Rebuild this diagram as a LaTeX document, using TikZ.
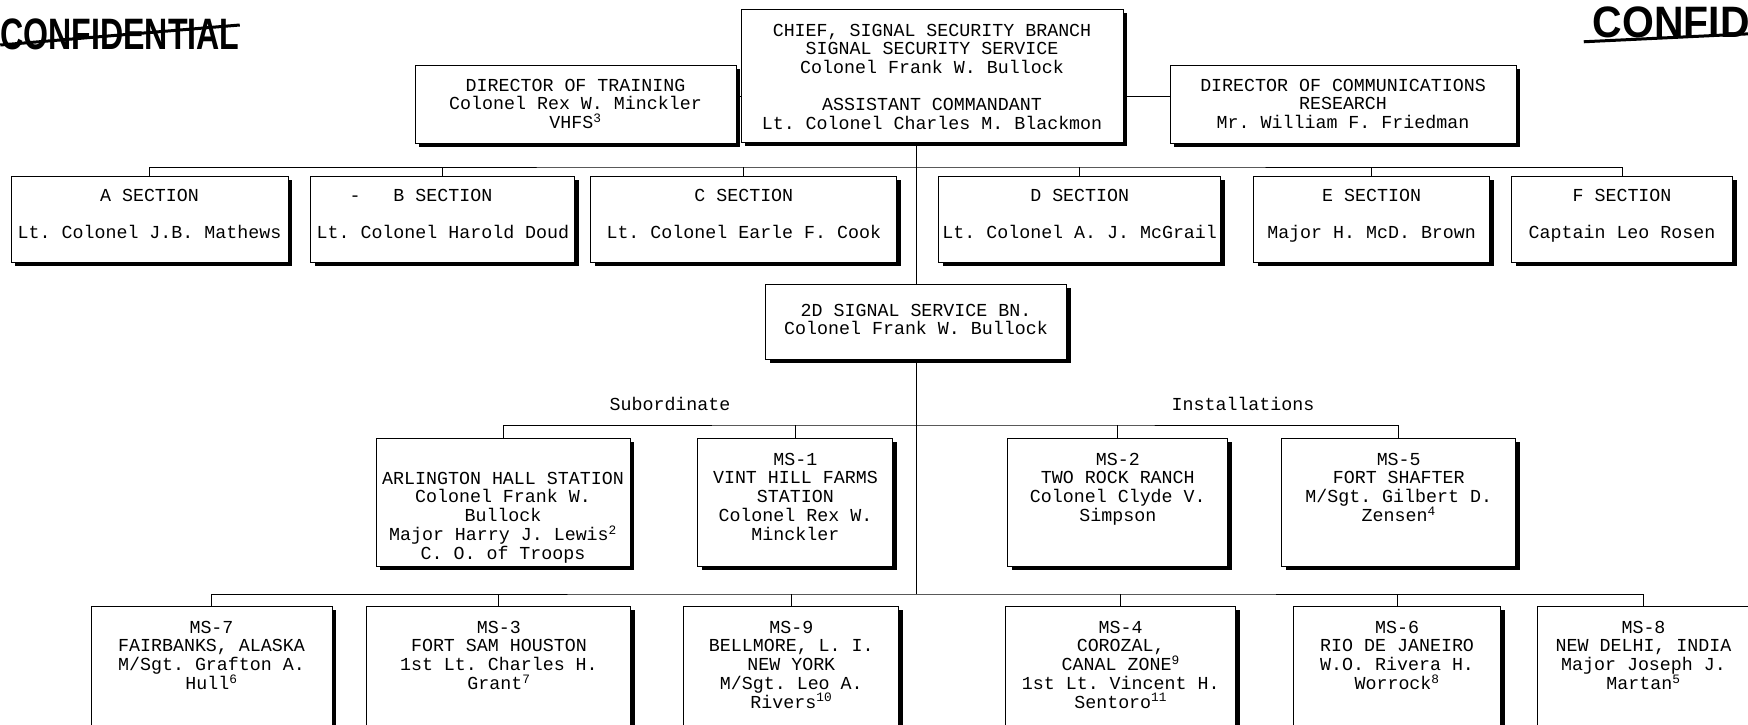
\documentclass[tikz,border=0pt]{standalone}
\usepackage{fontspec}
\setmonofont{Liberation Mono}
\newfontfamily\stampfont[FakeStretch=0.73]{Liberation Sans}
\newfontfamily\stampwide[FakeStretch=0.93]{Liberation Sans}
\usetikzlibrary{positioning,shadows}
% width, height, top padding, lines
\newcommand{\cellbox}[4]{\parbox[c][#2pt][t]{#1pt}{\centering\vspace*{#3pt}#4\par}}
\tikzset{
  orgbox/.style={
    rectangle, draw=black, line width=0.9pt, fill=white, inner sep=0pt,
    font=\ttfamily\fontsize{18.3}{18.7}\selectfont,
    drop shadow={shadow xshift=4pt, shadow yshift=-4pt, fill=black, opacity=1}
  },
  orgline/.style={line width=0.9pt},
  orglabel/.style={font=\ttfamily\fontsize{18.3}{18.7}\selectfont, inner sep=0pt},
  stamp/.style={font=\stampfont\bfseries\fontsize{44}{44}\selectfont, inner sep=0pt}
}

\begin{document}
\begin{tikzpicture}[x=1pt, y=-1pt]
\fill[white, use as bounding box] (0,0) rectangle (1748,725);

% stamps
\node[stamp] (stampL) at (120,34) {CONFIDENTIAL};
\draw[line width=3pt] ([yshift=-11pt]stampL.west) -- ([yshift=9pt]stampL.east);
\node[stamp, font=\stampwide\bfseries\fontsize{44}{44}\selectfont, anchor=east] (stampR) at (1750,22) {CONFID};
\draw[line width=3pt] ([xshift=-9pt, yshift=-4pt]stampR.south west) -- ([yshift=4pt]stampR.south east);

% head
\node[orgbox] (chief) at (932,75.5) {\cellbox{382}{133}{15}{CHIEF, SIGNAL SECURITY BRANCH\\SIGNAL SECURITY SERVICE\\Colonel Frank W. Bullock\\[18pt]ASSISTANT COMMANDANT\\Lt. Colonel Charles M. Blackmon}};
\node[orgbox] (training) at (575.5,104) {\cellbox{321}{78}{14}{DIRECTOR OF TRAINING\\Colonel Rex W. Minckler\\VHFS\textsuperscript{3}}};
\node[orgbox] (research) at (1343,104) {\cellbox{346}{78}{14}{DIRECTOR OF COMMUNICATIONS\\RESEARCH\\Mr. William F. Friedman}};
\coordinate (trainjoin) at ([yshift=8pt]training.east);
\coordinate (resjoin) at ([yshift=8pt]research.west);
\draw[orgline] (trainjoin) -- (trainjoin -| chief.west);
\draw[orgline] (resjoin) -- (resjoin -| chief.east);

% sections
\coordinate (secbar) at (916,167);
\node[orgbox] (secA) at (149.5,219) {\cellbox{277}{86}{13}{A SECTION\\[19pt]Lt. Colonel J.B. Mathews}};
\node[orgbox, right=22pt of secA] (secB) {\cellbox{264}{86}{13}{\leavevmode\llap{-\hspace{33pt}}B SECTION\\[19pt]Lt. Colonel Harold Doud}};
\node[orgbox, right=15pt of secB] (secC) {\cellbox{306}{86}{13}{C SECTION\\[19pt]Lt. Colonel Earle F. Cook}};
\node[orgbox, right=41pt of secC] (secD) {\cellbox{282}{86}{13}{D SECTION\\[19pt]Lt. Colonel A. J. McGrail}};
\node[orgbox, right=32pt of secD] (secE) {\cellbox{236}{86}{13}{E SECTION\\[19pt]Major H. McD. Brown}};
\node[orgbox, right=21pt of secE] (secF) {\cellbox{221}{86}{13}{F SECTION\\[19pt]Captain Leo Rosen}};
\draw[orgline] (secA.north) |- (secbar) -| (secF.north);
\foreach \s in {secB,secC,secD,secE}
  \draw[orgline] (\s.north) -- (\s.north |- secbar);

% battalion
\node[orgbox] (bn2d) at (916,321.5) {\cellbox{301}{75}{20}{2D SIGNAL SERVICE BN.\\Colonel Frank W. Bullock}};
\draw[orgline] (bn2d.north |- chief.south) -- (bn2d.north);

% stations
\coordinate (midbar) at (916,425);
\coordinate (lowbar) at (916,594);
\node[orglabel] (subord) at (670,404) {Subordinate};
\node[orglabel] (install) at (1243,404) {Installations};
\node[orgbox] (arlington) at (503,502) {\cellbox{254}{128}{34}{ARLINGTON HALL STATION\\Colonel Frank W.\\Bullock\\Major Harry J. Lewis\textsuperscript{2}\\C. O. of Troops}};
\node[orgbox, right=67pt of arlington] (vinthill) {\cellbox{195}{128}{15}{MS-1\\VINT HILL FARMS\\STATION\\Colonel Rex W.\\Minckler}};
\node[orgbox, right=114pt of vinthill] (tworock) {\cellbox{220}{128}{15}{MS-2\\TWO ROCK RANCH\\Colonel Clyde V.\\Simpson}};
\node[orgbox, right=53pt of tworock] (shafter) {\cellbox{234}{128}{15}{MS-5\\FORT SHAFTER\\M/Sgt. Gilbert D.\\Zensen\textsuperscript{4}}};
\draw[orgline] (arlington.north) |- (midbar) -| (shafter.north);
\foreach \s in {vinthill,tworock}
  \draw[orgline] (\s.north) -- (\s.north |- midbar);
\draw[orgline] (bn2d.south) -- (bn2d.south |- lowbar);

% outposts
\node[orgbox] (fairbanks) at (211.5,681) {\cellbox{241}{150}{15}{MS-7\\FAIRBANKS, ALASKA\\M/Sgt. Grafton A.\\Hull\textsuperscript{6}}};
\node[orgbox, right=34pt of fairbanks] (samhouston) {\cellbox{264}{150}{15}{MS-3\\FORT SAM HOUSTON\\1st Lt. Charles H.\\Grant\textsuperscript{7}}};
\node[orgbox, right=52pt of samhouston] (bellmore) {\cellbox{215}{150}{15}{MS-9\\BELLMORE, L. I.\\NEW YORK\\M/Sgt. Leo A.\\Rivers\textsuperscript{10}}};
\node[orgbox, right=106pt of bellmore] (corozal) {\cellbox{230}{150}{15}{MS-4\\COROZAL,\\CANAL ZONE\textsuperscript{9}\\1st Lt. Vincent H.\\Sentoro\textsuperscript{11}}};
\node[orgbox, right=57pt of corozal] (rio) {\cellbox{207}{150}{15}{MS-6\\RIO DE JANEIRO\\W.O. Rivera H.\\Worrock\textsuperscript{8}}};
\node[orgbox, right=36pt of rio] (delhi) {\cellbox{212}{150}{15}{MS-8\\NEW DELHI, INDIA\\Major Joseph J.\\Martan\textsuperscript{5}}};
\draw[orgline] (fairbanks.north) |- (lowbar) -| (delhi.north);
\foreach \s in {samhouston,bellmore,corozal,rio}
  \draw[orgline] (\s.north) -- (\s.north |- lowbar);
\end{tikzpicture}
\end{document}
